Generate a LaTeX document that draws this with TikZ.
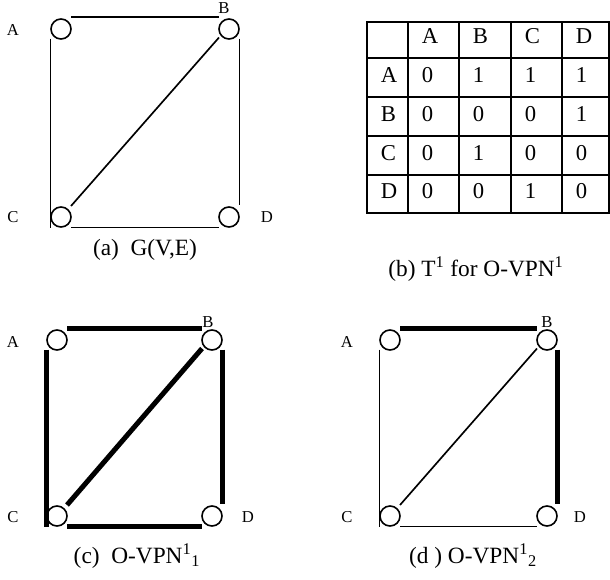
\documentclass[tikz,border=0pt]{standalone}
\usepackage{fontspec}
\setmainfont{Liberation Serif}
\usetikzlibrary{calc}
\tikzset{
  vtx/.style={circle, draw, line width=1.2pt, minimum size=15pt, inner sep=0pt},
  lbl/.style={font=\fontsize{12.5}{14}\selectfont, inner sep=0pt},
  capt/.style={font=\fontsize{17.5}{20}\selectfont, inner sep=0pt},
  cell/.style={font=\fontsize{17}{20}\selectfont, inner sep=0pt, anchor=base west},
  thinedge/.style={line width=1.25pt},
  thickedge/.style={line width=3.75pt},
  tablegrid/.style={line width=1.5pt}
}
% #1 prefix, #2 top, #3 left, #4 right, #5 bottom, #6 diagonal
\newcommand\vpnedges[6]{%
  \draw[#2] ($(#1A)+(10,-12)$) -- ($(#1B)+(-10,-12)$);
  \draw[#3] ($(#1A)+(-10.5,9.5)$) -- ($(#1C)+(-10.5,10.5)$);
  \draw[#4] ($(#1B)+(10.5,9.5)$) -- ($(#1D)+(10.5,-12)$);
  \draw[#5] ($(#1C)+(10,10.5)$) -- ($(#1D)+(-10,10.5)$);
  \draw[#6] ($(#1C)+(10,-11)$) -- ($(#1B)+(-10,8.5)$);
}
\begin{document}
\begin{tikzpicture}[x=0.75pt,y=-0.75pt]
\useasboundingbox (0,0) rectangle (610,579);

% ---------- panel (a)
\node[vtx] (aA) at (61,29) {};
\node[vtx] (aB) at (229,29) {};
\node[vtx] (aC) at (61,217) {};
\node[vtx] (aD) at (229,217) {};
\node[lbl] (alA) at (13,30) {A};
\node[lbl] (alB) at (224,8) {B};
\node[lbl] (alC) at (13,217) {C};
\node[lbl] (alD) at (267,217) {D};
\vpnedges{a}{thinedge}{thinedge}{thinedge}{thinedge}{thinedge}
\node[capt] (capa) at (145,250) {(a)\ \ G(V,E)};

% ---------- panel (b) table
\draw[tablegrid] (367,22) rectangle (609,213);
\foreach \cx in {408,459,511,562} \draw[tablegrid] (\cx,22) -- (\cx,213);
\foreach \ry in {58,97,136,175} \draw[tablegrid] (367,\ry) -- (609,\ry);
\node[cell] (h1) at (421.5,43.5) {A};
\node[cell] (h2) at (472.5,43.5) {B};
\node[cell] (h3) at (524.5,43.5) {C};
\node[cell] (h4) at (575.5,43.5) {D};
\foreach \ry/\rl/\va/\vb/\vc/\vd [count=\k] in
  {97/A/0/1/1/1, 136/B/0/0/0/1, 175/C/0/1/0/0, 213/D/0/0/1/0}
{
  \node[cell] (r\k c0) at (380.5,\ry-14.5) {\rl};
  \node[cell] (r\k c1) at (421.5,\ry-14.5) {\va};
  \node[cell] (r\k c2) at (472.5,\ry-14.5) {\vb};
  \node[cell] (r\k c3) at (524.5,\ry-14.5) {\vc};
  \node[cell] (r\k c4) at (575.5,\ry-14.5) {\vd};
}
\node[capt] (capb) at (476,269) {(b) T\textsuperscript{1} for O-VPN\textsuperscript{1}};

% ---------- panel (c)
\node[vtx] (cA) at (57,340) {};
\node[vtx] (cB) at (212,340) {};
\node[vtx] (cC) at (57,516) {};
\node[vtx] (cD) at (212,516) {};
\node[lbl] (clA) at (13,342) {A};
\node[lbl] (clB) at (208,322) {B};
\node[lbl] (clC) at (13,517) {C};
\node[lbl] (clD) at (248,517) {D};
\vpnedges{c}{thickedge}{thickedge}{thickedge}{thickedge}{thickedge}
\node[capt] (capc) at (137,556) {(c)\ \ O-VPN\textsuperscript{1}\textsubscript{1}};

% ---------- panel (d)
\node[vtx] (dA) at (390,340) {};
\node[vtx] (dB) at (547,340) {};
\node[vtx] (dC) at (390,516) {};
\node[vtx] (dD) at (547,516) {};
\node[lbl] (dlA) at (347,342) {A};
\node[lbl] (dlB) at (547,322) {B};
\node[lbl] (dlC) at (347,517) {C};
\node[lbl] (dlD) at (580,517) {D};
\vpnedges{d}{thickedge}{thinedge}{thickedge}{thinedge}{thinedge}
\node[capt] (capd) at (473,556) {(d ) O-VPN\textsuperscript{1}\textsubscript{2}};
\end{tikzpicture}
\end{document}
